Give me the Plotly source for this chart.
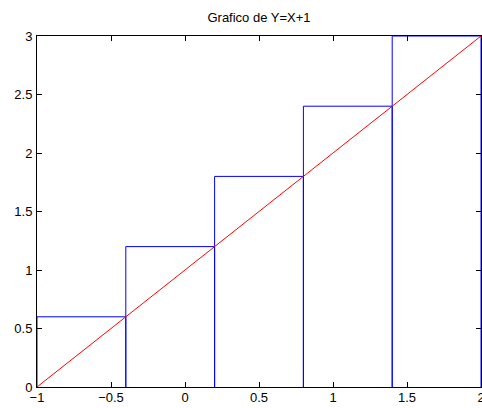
import plotly.graph_objects as go

# Data
bar_edges = [-1.0, -0.4, 0.2, 0.8, 1.4, 2.0]
bar_heights = [0.6, 1.2, 1.8, 2.4, 3.0]
line_x = [-1, 2]
line_y = [0, 3]
x_ticks = [-1, -0.5, 0, 0.5, 1, 1.5, 2]
x_tick_labels = ["\u22121", "\u22120.5", "0", "0.5", "1", "1.5", "2"]
y_ticks = [0, 0.5, 1, 1.5, 2, 2.5, 3]
y_tick_labels = ["0", "0.5", "1", "1.5", "2", "2.5", "3"]

# Rectangle outlines built from the data
rect_x, rect_y = [], []
for i, h in enumerate(bar_heights):
    left, right = bar_edges[i], bar_edges[i + 1]
    rect_x += [left, left, right, right, None]
    rect_y += [0, h, h, 0, None]

fig = go.Figure()
fig.add_trace(go.Scatter(
    x=rect_x, y=rect_y, mode="lines",
    line=dict(color="#0000ff", width=1), showlegend=False, cliponaxis=False,
))
fig.add_trace(go.Scatter(
    x=line_x, y=line_y, mode="lines",
    line=dict(color="#ff0000", width=1), showlegend=False,
))

axis_common = dict(
    showline=True, linecolor="black", linewidth=1, mirror="ticks",
    ticks="inside", ticklen=5, tickcolor="black", tickwidth=1,
    showgrid=False, zeroline=False, automargin=False, layer="below traces",
    ticklabeloverflow="allow",
    tickfont=dict(family="Liberation Sans, Arial", size=13, color="black"),
)
fig.update_layout(
    width=482, height=408,
    margin=dict(l=37, r=1, t=36, b=21, autoexpand=False),
    paper_bgcolor="white", plot_bgcolor="white",
    title=dict(text="Grafico de Y=X+1", x=(37 + 481) / 2 / 482, xanchor="center",
               y=1 - 17 / 408, yanchor="middle",
               font=dict(family="Liberation Sans, Arial", size=13, color="black")),
    xaxis=dict(range=[-1, 2], tickvals=x_ticks, ticktext=x_tick_labels,
               ticklabelstandoff=-2, **axis_common),
    yaxis=dict(range=[0, 3], tickvals=y_ticks, ticktext=y_tick_labels,
               ticklabelstandoff=1, **axis_common),
)
fig.write_html("out.html", config={"displayModeBar": False},
               post_script="document.body.style.margin='0';document.body.style.overflow='hidden';")
